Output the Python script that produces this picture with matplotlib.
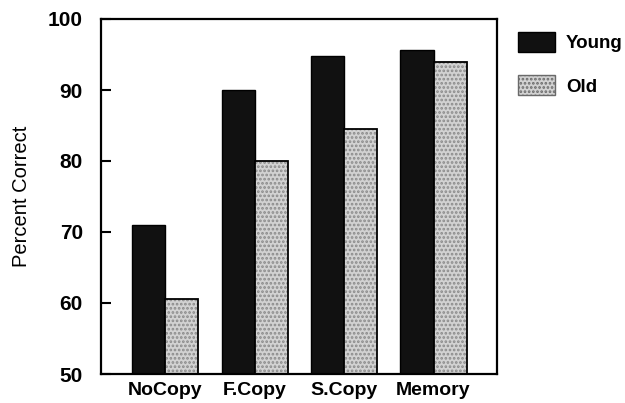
import numpy as np
import matplotlib.pyplot as plt
from matplotlib.patches import Patch

# data
conditions = ["NoCopy", "F.Copy", "S.Copy", "Memory"]
young = [71.0, 90.0, 94.8, 95.6]
old = [60.6, 80.0, 84.5, 93.9]

plt.rcParams['font.family'] = ['Liberation Sans', 'DejaVu Sans']
plt.rcParams['font.weight'] = 'bold'
plt.rcParams['hatch.linewidth'] = 1.3

fig = plt.figure(figsize=(6.25, 4.03), dpi=100)
ax = fig.add_axes([101/625, 1 - 374/403, 396/625, 355/403])

x = np.arange(len(conditions))
w = 0.37

ax.bar(x - w/2, young, w, color='#111111', edgecolor='black', linewidth=1)
# stippled old bars: hatch in gray, then a black outline on top
ax.bar(x + w/2, old, w, color='#d2d2d2', edgecolor='#8a8a8a', hatch='....', linewidth=0)
ax.bar(x + w/2, old, w, color='none', edgecolor='black', linewidth=1.3)

ax.set_ylim(50, 100)
ax.set_xlim(-0.72, 3.71)
ax.set_yticks([50, 60, 70, 80, 90, 100])
ax.tick_params(axis='y', direction='in', length=7, width=1.5, labelsize=15, pad=13)
ax.tick_params(axis='x', length=0, labelsize=14, pad=6)
ax.set_xticks(x)
ax.set_xticklabels(conditions)
ax.set_ylabel("Percent Correct", fontsize=14.5, fontweight='normal', labelpad=12)
for s in ax.spines.values():
    s.set_linewidth(1.6)

handles = [Patch(facecolor='#111111', edgecolor='black', label='Young'),
           Patch(facecolor='#d2d2d2', edgecolor='#6a6a6a', hatch='....', label='Old')]
fig.legend(handles=handles, loc='upper left', bbox_to_anchor=(518/625, 1 - 32/403),
           frameon=False, fontsize=13.5, handlelength=1.97, handleheight=1.3,
           labelspacing=1.2, handletextpad=0.6, borderpad=0, borderaxespad=0)

fig.savefig("out.png", dpi=100)
